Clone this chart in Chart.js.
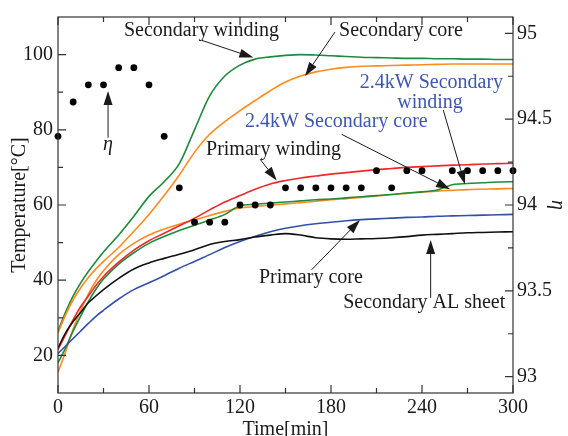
<!DOCTYPE html>
<html lang="en">
<head>
<meta charset="UTF-8" />
<title>Temperature rise and efficiency</title>
<script src="https://cdn.jsdelivr.net/npm/chart.js"></script>
<style>
  html, body { margin: 0; padding: 0; background: #fff; }
</style>
</head>
<body>
<canvas id="heatChart" width="568" height="436"></canvas>
<script>
  // time axis shared by all temperature curves [min]
  const times = [0, 5, 10, 15, 20, 25, 30, 40, 50, 60, 70, 80, 90, 100, 110, 120, 130, 140, 150,
    160, 170, 180, 190, 200, 210, 220, 230, 240, 250, 260, 270, 280, 290, 300];

  // temperatures [°C]
  const secWinding = [26.5, 31.5, 35.8, 39.3, 42.3, 45, 47.5, 52, 57, 62.3, 66.2, 71, 80, 89, 94.3, 97.2, 98.8, 99.4, 99.8,
    100, 99.9, 99.7, 99.5, 99.3, 99.2, 99.1, 99, 99, 98.9, 98.9, 98.8, 98.8, 98.7, 98.7];
  const secCore = [26, 30.8, 34.8, 38, 40.7, 43, 45, 48.7, 53, 57.5, 62.5, 68, 74, 78.8, 82.2, 85.1, 87.8, 90.4, 92.7,
    94.3, 95.4, 96.1, 96.6, 96.9, 97, 97.1, 97.2, 97.3, 97.4, 97.5, 97.5, 97.5, 97.5, 97.5];
  const primWinding = [21.5, 25.5, 29.5, 33, 35.8, 38.6, 41, 44.8, 48, 50.5, 52.5, 54.5, 56.5, 58.7, 60.8, 62.5, 64.2, 65.6, 66.5,
    67.2, 67.7, 68.2, 68.6, 69, 69.4, 69.7, 70, 70.2, 70.4, 70.6, 70.7, 70.9, 71, 71.1];
  const secWinding24 = [18, 22, 26.5, 30.5, 34.3, 37.6, 40.3, 44.3, 47.3, 49.8, 51.6, 53.2, 54.6, 56, 57.5, 59.8, 60.2, 60.5, 60.8,
    61.1, 61.4, 61.6, 61.9, 62.2, 62.5, 62.8, 63.2, 63.5, 64, 65.4, 65.7, 65.9, 66.1, 66.2];
  const secCore24 = [15.5, 21, 27, 32, 36.3, 39.8, 42.5, 46.8, 49.8, 52, 53.6, 54.9, 56, 57.2, 58.3, 59.2, 59.6, 60, 60.3,
    60.6, 61, 61.4, 61.7, 62, 62.4, 62.8, 63.1, 63.4, 63.7, 63.9, 64.1, 64.2, 64.3, 64.4];
  const primCore = [20.5, 22.5, 24.5, 26.5, 28.5, 30.4, 32, 35, 37.5, 39.3, 41.2, 43.2, 45, 46.8, 48.7, 50.3, 51.7, 52.9, 53.8,
    54.5, 55, 55.4, 55.8, 56.1, 56.3, 56.5, 56.7, 56.8, 57, 57.1, 57.2, 57.3, 57.4, 57.5];
  const alSheet = [22, 26, 29, 31.5, 34, 35.8, 37.5, 40.5, 43, 44.6, 45.8, 46.9, 48.1, 49.5, 50.3, 50.8, 51.5, 52, 52.4,
    52, 51.3, 51, 50.9, 51, 51.1, 51.3, 51.6, 52, 52.2, 52.4, 52.6, 52.7, 52.8, 52.9];

  // efficiency eta, measured every 10 min
  const etaTimes = [0, 10, 20, 30, 40, 50, 60, 70, 80, 90, 100, 110, 120, 130, 140, 150, 160, 170, 180, 190,
    200, 210, 220, 230, 240, 260, 270, 280, 290, 300];
  const etaValues = [94.4, 94.6, 94.7, 94.7, 94.8, 94.8, 94.7, 94.4, 94.1, 93.9, 93.9, 93.9, 94.0, 94.0, 94.0, 94.1, 94.1, 94.1, 94.1, 94.1,
    94.1, 94.2, 94.1, 94.2, 94.2, 94.2, 94.2, 94.2, 94.2, 94.2];

  // ticks
  const timeTicks = [0, 30, 60, 90, 120, 150, 180, 210, 240, 270, 300];
  const timeLabels = [0, 60, 120, 180, 240, 300];
  const tempTicks = [20, 30, 40, 50, 60, 70, 80, 90, 100];
  const tempLabels = [20, 40, 60, 80, 100];
  const etaTicks = [93, 93.25, 93.5, 93.75, 94, 94.25, 94.5, 94.75, 95];
  const etaLabels = [93, 93.5, 94, 94.5, 95];

  const serif = "'Liberation Serif', 'Times New Roman', serif";
  const ink = '#1a1a1a';
  const noteBlue = '#3d57b2';

  // text labels and arrows placed in data units (time, temperature)
  const notes = [
    { text: 'Secondary winding', t: 43.5, T: 105, color: ink, align: 'left' },
    { text: 'Secondary core', t: 185.3, T: 105, color: ink, align: 'left' },
    { text: '2.4kW Secondary', t: 199, T: 91, color: noteBlue, align: 'left' },
    { text: 'winding', t: 245.3, T: 85.8, color: noteBlue, align: 'center' },
    { text: '2.4kW Secondary core', t: 123.3, T: 80.8, color: noteBlue, align: 'left' },
    { text: 'Primary winding', t: 97.6, T: 73.4, color: ink, align: 'left' },
    { text: 'Primary core', t: 132.5, T: 39.2, color: ink, align: 'left' },
    { text: 'Secondary AL sheet', t: 188, T: 32.6, color: ink, align: 'left' },
    { text: 'η', t: 33, T: 74.5, color: ink, align: 'center', italic: true }
  ];
  const arrows = [
    { from: [94.7, 103.8], to: [128.8, 99.2] },
    { from: [182.6, 106], to: [162.9, 94.3] },
    { from: [254, 85.3], to: [268.3, 65.5] },
    { from: [187, 78.8], to: [258.5, 64.2] },
    { from: [133.2, 72.2], to: [144.2, 66.5] },
    { from: [167.3, 42.8], to: [199.1, 56] },
    { from: [245.7, 35.3], to: [245.7, 50.7] },
    { from: [33, 77.9], to: [33, 90.3] }
  ];

  function points(xs, ys) {
    return xs.map((x, i) => ({ x: x, y: ys[i] }));
  }

  function curve(values, color) {
    return {
      data: points(times, values),
      borderColor: color,
      borderWidth: 1.6,
      pointRadius: 0,
      fill: false,
      cubicInterpolationMode: 'monotone',
      yAxisID: 'y'
    };
  }

  function drawArrow(ctx, x1, y1, x2, y2) {
    const a = Math.atan2(y2 - y1, x2 - x1);
    const len = 14, half = 4.5;
    const bx = x2 - len * Math.cos(a), by = y2 - len * Math.sin(a);
    ctx.beginPath();
    ctx.moveTo(x1, y1);
    ctx.lineTo(bx, by);
    ctx.stroke();
    ctx.beginPath();
    ctx.moveTo(x2, y2);
    ctx.lineTo(bx + half * Math.sin(a), by - half * Math.cos(a));
    ctx.lineTo(bx - half * Math.sin(a), by + half * Math.cos(a));
    ctx.closePath();
    ctx.fill();
  }

  // frame, inward ticks and the annotations
  const decorations = {
    id: 'decorations',
    afterDraw(chart) {
      const { ctx, chartArea: area, scales } = chart;
      const xs = scales.x, ys = scales.y, es = scales.y2;
      ctx.save();
      ctx.strokeStyle = '#333';
      ctx.lineWidth = 1.2;
      ctx.strokeRect(area.left, area.top, area.right - area.left, area.bottom - area.top);

      ctx.beginPath();
      timeTicks.forEach(v => {
        const px = xs.getPixelForValue(v);
        const l = timeLabels.includes(v) ? 8 : 5;
        ctx.moveTo(px, area.bottom); ctx.lineTo(px, area.bottom - l);
        ctx.moveTo(px, area.top); ctx.lineTo(px, area.top + l);
      });
      tempTicks.forEach(v => {
        const py = ys.getPixelForValue(v);
        const l = tempLabels.includes(v) ? 8 : 5;
        ctx.moveTo(area.left, py); ctx.lineTo(area.left + l, py);
      });
      etaTicks.forEach(v => {
        const py = es.getPixelForValue(v);
        const l = etaLabels.includes(v) ? 8 : 5;
        ctx.moveTo(area.right, py); ctx.lineTo(area.right - l, py);
      });
      ctx.stroke();

      ctx.strokeStyle = ink;
      ctx.fillStyle = ink;
      ctx.lineWidth = 1;
      arrows.forEach(a => {
        drawArrow(ctx, xs.getPixelForValue(a.from[0]), ys.getPixelForValue(a.from[1]),
          xs.getPixelForValue(a.to[0]), ys.getPixelForValue(a.to[1]));
      });

      ctx.textBaseline = 'alphabetic';
      notes.forEach(n => {
        ctx.font = (n.italic ? 'italic ' : '') + '20px ' + serif;
        ctx.fillStyle = n.color;
        ctx.textAlign = n.align;
        ctx.fillText(n.text, xs.getPixelForValue(n.t), ys.getPixelForValue(n.T));
      });
      ctx.restore();
    }
  };

  const tickFont = { family: serif, size: 20 };

  new Chart(document.getElementById('heatChart'), {
    type: 'line',
    data: {
      datasets: [
        {
          data: points(etaTimes, etaValues),
          yAxisID: 'y2',
          showLine: false,
          clip: false,
          pointRadius: 3.4,
          pointBackgroundColor: '#000',
          pointBorderWidth: 0
        },
        curve(alSheet, '#111111'),
        curve(primCore, '#3350a8'),
        curve(primWinding, '#f0282a'),
        curve(secWinding24, '#1f8a3c'),
        curve(secCore24, '#ff8a1e'),
        curve(secCore, '#ff8a1e'),
        curve(secWinding, '#1f8a3c')
      ]
    },
    options: {
      responsive: false,
      animation: false,
      layout: { padding: { top: 13, left: 0, right: 0, bottom: 0 } },
      plugins: { legend: { display: false }, tooltip: { enabled: false } },
      scales: {
        x: {
          type: 'linear',
          position: 'bottom',
          min: 0,
          max: 300,
          afterBuildTicks: s => { s.ticks = timeTicks.map(v => ({ value: v })); },
          afterFit: s => { s.height = 43; },
          ticks: {
            autoSkip: false,
            maxRotation: 0,
            padding: 3,
            color: ink,
            font: tickFont,
            callback: v => timeLabels.includes(v) ? String(v) : ''
          },
          grid: { display: false, drawTicks: false },
          border: { display: false },
          title: { display: true, text: 'Time[min]', color: ink, font: { family: serif, size: 20, lineHeight: 1 }, padding: { top: 0, bottom: -4 } }
        },
        y: {
          position: 'left',
          min: 10,
          max: 110,
          afterBuildTicks: s => { s.ticks = tempTicks.map(v => ({ value: v })); },
          afterFit: s => { s.width = 58; },
          ticks: {
            autoSkip: false,
            padding: 5,
            color: ink,
            font: tickFont,
            callback: v => tempLabels.includes(v) ? String(v) : ''
          },
          grid: { display: false, drawTicks: false },
          border: { display: false },
          title: { display: true, text: 'Temperature[°C]', color: ink, font: { family: serif, size: 20, lineHeight: 1 }, padding: { top: 10, bottom: 0 } }
        },
        y2: {
          position: 'right',
          min: 92.905,
          max: 95.095,
          afterBuildTicks: s => { s.ticks = etaTicks.map(v => ({ value: v })); },
          afterFit: s => { s.width = 55; },
          ticks: {
            autoSkip: false,
            padding: 4,
            color: ink,
            font: tickFont,
            callback: v => etaLabels.includes(v) ? String(v) : ''
          },
          grid: { display: false, drawTicks: false },
          border: { display: false },
          title: { display: true, text: 'η', color: ink, font: { family: serif, size: 20, style: 'italic', lineHeight: 1 }, padding: { top: 1, bottom: 0 } }
        }
      }
    },
    plugins: [decorations]
  });
</script>
</body>
</html>
